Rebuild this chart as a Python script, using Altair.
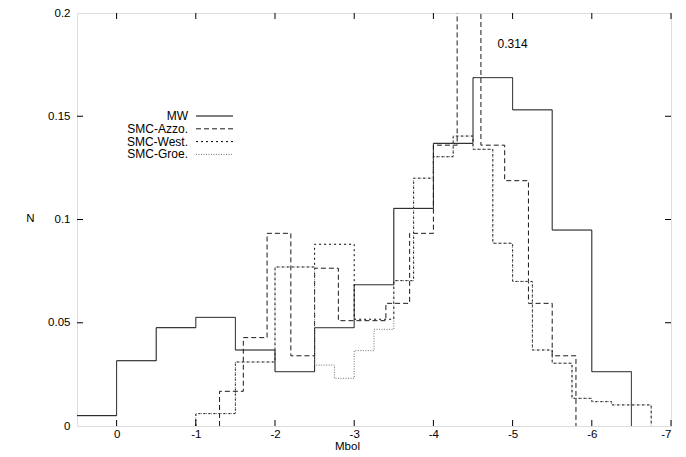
import altair as alt
import pandas as pd

FONT = "Liberation Sans"

series_names = ["MW", "SMC-Azzo.", "SMC-West.", "SMC-Groe."]
series_colors = ["#000000", "#1a1a1a", "#000000", "#707070"]
series_dashes = [[1, 0], [5, 3], [2, 3], [1, 1.5]]

mw_edges = [0.5, 0.0, -0.5, -1.0, -1.5, -2.0, -2.5, -3.0, -3.5, -4.0, -4.5, -5.0, -5.5, -6.0, -6.5]
mw_values = [0.005, 0.0316, 0.0476, 0.0526, 0.0368, 0.0263, 0.0476, 0.0684, 0.1054,
             0.1369, 0.1687, 0.1531, 0.0949, 0.0263]

azzo_edges = [-1.3, -1.6, -1.9, -2.2, -2.5, -2.8, -3.1, -3.4, -3.7, -4.0, -4.3, -4.6,
              -4.9, -5.2, -5.5, -5.8]
azzo_values = [0.0168, 0.0428, 0.0933, 0.034, 0.0764, 0.051, 0.051, 0.0594, 0.0933,
               0.136, 0.314, 0.136, 0.1188, 0.0594, 0.034]

west_edges = [-1.0, -1.5, -2.0, -2.5, -3.0, -3.5, -3.75, -4.0, -4.25, -4.5, -4.75,
              -5.0, -5.25, -5.5, -5.75, -6.0, -6.25, -6.5, -6.75]
west_values = [0.006, 0.031, 0.077, 0.088, 0.0517, 0.0704, 0.12, 0.1304, 0.1404,
               0.134, 0.0885, 0.070, 0.0368, 0.0304, 0.0134, 0.0118, 0.0102, 0.0102]

groe_edges = [-1.0, -1.5, -2.0, -2.5, -2.75, -3.0, -3.25, -3.5, -3.75, -4.0, -4.25,
              -4.5, -4.75, -5.0, -5.25, -5.5, -5.75, -6.0, -6.25, -6.5, -6.75]
groe_values = [0.006, 0.031, 0.077, 0.0295, 0.0231, 0.0365, 0.0468, 0.0704, 0.12,
               0.1304, 0.1404, 0.134, 0.0885, 0.070, 0.0368, 0.0304, 0.0134, 0.0118,
               0.0102, 0.0102]

x_ticks = [0, -1, -2, -3, -4, -5, -6, -7]
y_ticks = [0, 0.05, 0.1, 0.15, 0.2]
peak_label = "0.314"

W, H = 594, 413


def steps(name, edges, values, from_zero):
    rows = []
    if from_zero:
        rows.append((edges[0], 0.0))
    for e, v in zip(edges[:-1], values):
        rows.append((e, v))
    rows.append((edges[-1], 0.0))
    return [{"series": name, "x": x, "y": y, "i": k} for k, (x, y) in enumerate(rows)]


records = []
records += steps("MW", mw_edges, mw_values, False)
records += steps("SMC-Azzo.", azzo_edges, azzo_values, True)
records += steps("SMC-West.", west_edges, west_values, True)
records += steps("SMC-Groe.", groe_edges, groe_values, True)
df = pd.DataFrame(records)

xscale = alt.Scale(domain=[-7, 0.5], reverse=True, nice=False, zero=False)
yscale = alt.Scale(domain=[0, 0.2], nice=False, zero=True)
cscale = alt.Scale(domain=series_names, range=series_colors)
dscale = alt.Scale(domain=series_names, range=series_dashes)

lines = alt.Chart(df).mark_line(interpolate="step-after", strokeWidth=1, clip=True).encode(
    x=alt.X("x:Q", scale=xscale,
            axis=alt.Axis(values=x_ticks, labelExpr="'' + datum.value", ticks=False, domain=False,
                          grid=False, labelFont=FONT, labelFontSize=11.5, labelColor="black",
                          labelPadding=2, title="Mbol", titleFont=FONT, titleFontSize=11.5,
                          titleFontWeight="normal", titleColor="black", titleX=270, titleY=20,
                          titleAlign="center", titleBaseline="middle")),
    y=alt.Y("y:Q", scale=yscale,
            axis=alt.Axis(values=y_ticks, labelExpr="'' + datum.value", ticks=False, domain=False,
                          grid=False, labelFont=FONT, labelFontSize=11.5, labelColor="black",
                          labelPadding=7, title="N", titleFont=FONT, titleFontSize=11.5,
                          titleFontWeight="normal", titleColor="black", titleAngle=0,
                          titleX=-47, titleY=205, titleAlign="center", titleBaseline="middle")),
    color=alt.Color("series:N", scale=cscale, legend=None),
    strokeDash=alt.StrokeDash("series:N", scale=dscale, legend=None),
    detail="series:N",
    order=alt.Order("i:Q"),
)

xt = pd.DataFrame({"t": x_ticks})
yt = pd.DataFrame({"t": y_ticks[1:-1]})

tick_bottom = alt.Chart(xt).mark_rule(color="black", strokeWidth=1).encode(
    x=alt.X("t:Q", scale=xscale), y=alt.value(H), y2=alt.value(H - 6))
tick_top = alt.Chart(xt).mark_rule(color="black", strokeWidth=1).encode(
    x=alt.X("t:Q", scale=xscale), y=alt.value(0), y2=alt.value(6))
tick_left = alt.Chart(yt).mark_rule(color="black", strokeWidth=1).encode(
    y=alt.Y("t:Q", scale=yscale), x=alt.value(0), x2=alt.value(6))
tick_right = alt.Chart(yt).mark_rule(color="black", strokeWidth=1).encode(
    y=alt.Y("t:Q", scale=yscale), x=alt.value(W), x2=alt.value(W - 6))

leg = pd.DataFrame({"series": series_names, "row": list(range(len(series_names)))})
leg_base = alt.Chart(leg).transform_calculate(ly="103 + datum.row * 12.8")
leg_text = leg_base.mark_text(align="right", baseline="middle", font=FONT, fontSize=12,
                              color="black").encode(
    x=alt.value(111), y=alt.Y("ly:Q", scale=None), text="series:N")
leg_line = leg_base.mark_rule(strokeWidth=1).encode(
    x=alt.value(119), x2=alt.value(156), y=alt.Y("ly:Q", scale=None),
    color=alt.Color("series:N", scale=cscale, legend=None),
    strokeDash=alt.StrokeDash("series:N", scale=dscale, legend=None))

ann = alt.Chart(pd.DataFrame({"label": [peak_label], "x": [-5.0], "y": [0.185]})).mark_text(
    align="center", baseline="middle", font=FONT, fontSize=12, color="black").encode(
    x=alt.X("x:Q", scale=xscale), y=alt.Y("y:Q", scale=yscale), text="label:N")

chart = alt.layer(lines, tick_bottom, tick_top, tick_left, tick_right, leg_line, leg_text, ann).properties(
    width=W, height=H,
    autosize=alt.AutoSizeParams(type="none"),
    padding={"left": 69, "top": 5, "right": 7, "bottom": 31},
).configure_view(stroke="black", strokeWidth=1).configure(background="white")

chart.save("out.html", embed_options={"renderer": "svg", "actions": False})
